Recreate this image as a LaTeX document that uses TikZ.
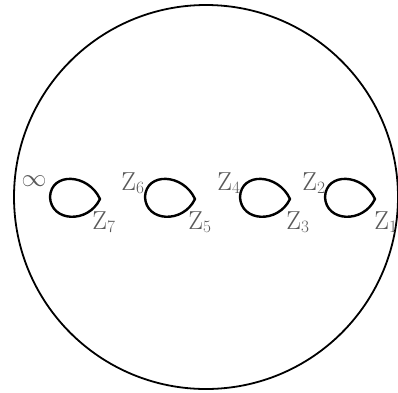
\documentclass[tikz,border=0pt]{standalone}
\begin{document}
\begin{tikzpicture}[x=1pt, y=-1pt, line join=round, line cap=round,
  loop/.style={line width=2.4pt},
  lab/.style={text=black!65, font=\fontsize{26}{26}\selectfont, inner sep=0pt}
]
  \useasboundingbox (0,0) rectangle (398,392);

  \coordinate (o) at (206,197);
  \draw[line width=1.8pt] (o) circle[radius=192];

  % the four loops
  \foreach \n/\x in {a/50, b/145, c/240, d/325} {
    \coordinate (\n l) at (\x,197);
    \coordinate (\n r) at (\x+50,199);
    \draw[loop] (\n l) .. controls +(1,-25) and +(-12,-26) .. (\n r)
                       .. controls +(-12,25) and +(1,25) .. (\n l);
  }

  \node[lab] (inf) at (34,181) {$\infty$};
  \node[lab] (z7) at (104,222) {Z$_7$};
  \node[lab] (z6) at (133,183) {Z$_6$};
  \node[lab] (z5) at (200,222) {Z$_5$};
  \node[lab] (z4) at (229,183) {Z$_4$};
  \node[lab] (z3) at (298,222) {Z$_3$};
  \node[lab] (z2) at (314,183) {Z$_2$};
  \node[lab] (z1) at (386,222) {Z$_1$};
\end{tikzpicture}
\end{document}
